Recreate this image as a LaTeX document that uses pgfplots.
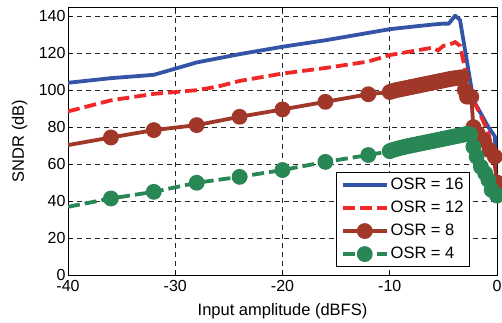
\documentclass[border=0pt]{standalone}
\usepackage{pgfplots}
\pgfplotsset{compat=1.18}
\usepackage{fontspec}
\setmainfont{Liberation Sans}
\definecolor{cblue}{RGB}{52,84,166}
\definecolor{cred}{RGB}{240,40,40}
\definecolor{cbrown}{RGB}{160,55,40}
\definecolor{cgreen}{RGB}{40,135,85}
\begin{document}
\begin{tikzpicture}
\path[use as bounding box] (-68pt,-47pt) rectangle (434pt,275pt);
\begin{axis}[
  scale only axis,
  width=429pt, height=268pt,
  xmin=-40, xmax=0, ymin=0, ymax=145,
  xtick={-40,-30,-20,-10,0},
  ytick={0,20,40,60,80,100,120,140},
  tick pos=both, tick align=inside,
  major tick length=4pt,
  tick style={black, line width=0.6pt},
  axis line style={black, line width=0.8pt},
  grid=major,
  major grid style={dash pattern=on 5pt off 4pt, black!85, line width=0.6pt},
  /pgf/number format/assume math mode=true,
  ticklabel style={font=\fontsize{16}{19}\selectfont},
  xticklabel style={yshift=-1.5pt},
  yticklabel style={xshift=1pt},
  label style={font=\fontsize{16.5}{19}\selectfont},
  xlabel={Input amplitude (dBFS)},
  ylabel={SNDR (dB)},
  xlabel style={at={(axis description cs:0.5,-0.1493)}, anchor=base},
  ylabel style={at={(axis description cs:-0.1026,0.5)}, anchor=base},
  legend style={at={(axis description cs:0.937,0.03)}, anchor=south east,
    draw=black, line width=0.8pt, fill=white,
    font=\fontsize{16.5}{19}\selectfont,
    nodes={inner sep=2pt, text height=12pt, text depth=3pt},
    row sep=4pt, inner xsep=4pt, inner ysep=3pt},
  legend cell align=left,
  legend image code/.code={\draw[mark repeat=2,mark phase=2,#1] plot coordinates {(0pt,0pt) (22pt,0pt) (44pt,0pt)};},
]
\addplot[cblue, line width=3.8pt, line join=round] coordinates {
(-40,104) (-36,106.5) (-32,108.3) (-28,115) (-24,119.5) (-20,123.5) (-16,127)
(-12,131) (-10,133) (-8,134.3) (-6,135.5) (-5,136) (-4.5,136) (-3.9,140.3)
(-3.45,138) (-2.2,94.6) (-0.8,80) (-0.2,75) (0,52)};
\addlegendentry{OSR = 16}
\addplot[cred, line width=3.8pt, dash pattern=on 12pt off 5pt] coordinates {
(-40,88.5) (-36,94.5) (-32,98) (-28,100) (-26,102) (-24,105) (-20,109) (-16,112)
(-12,115.5) (-10,119) (-8,121) (-6,123) (-5.5,121.5) (-5,124) (-4.5,124.5)
(-3.9,126) (-3.45,124) (-2.4,96.5) (-1.6,87.5) (-0.8,76.6) (-0.3,64) (0,50)};
\addlegendentry{OSR = 12}
\addplot[cbrown, line width=3.8pt, mark=*, mark size=6pt, mark phase=2, mark options={solid}] coordinates {
(-40,70.3) (-36,74.4) (-32,78.4) (-28,81.1) (-24,85.6) (-20,89.6) (-16,93.7) (-12,97.8)
(-10,99.0) (-9.75,99.5) (-9.5,99.9) (-9.25,100.2) (-9,100.5) (-8.75,100.8) (-8.5,101.1)
(-8.25,101.4) (-8,101.7) (-7.75,102.0) (-7.5,102.3) (-7.25,102.6) (-7,102.9) (-6.75,103.2)
(-6.5,103.5) (-6.25,103.8) (-6,104.1) (-5.75,104.4) (-5.5,104.7) (-5.25,105.0) (-5,105.3)
(-4.75,105.6) (-4.5,105.9) (-4.25,106.2) (-4,106.4) (-3.75,106.6) (-3.5,106.8) (-3.25,107.0)
(-3,100) (-2.8,96.5) (-2.4,96.4) (-2.2,80) (-1.8,76.6) (-1.3,73) (-0.7,67.6) (-0.2,64) (0,50)};
\addlegendentry{OSR = 8}
\addplot[cgreen, line width=3.8pt, dash pattern=on 12pt off 5pt, mark=*, mark size=6pt, mark phase=2, mark options={solid}] coordinates {
(-40,36.9) (-36,41.4) (-32,45) (-28,49.9) (-24,53.1) (-20,56.8) (-16,61.2) (-12,64.9)
(-10,67.0) (-9.75,67.6) (-9.5,68.0) (-9.25,68.4) (-9,68.8) (-8.75,69.1) (-8.5,69.5)
(-8.25,69.8) (-8,70.1) (-7.75,70.4) (-7.5,70.7) (-7.25,71.0) (-7,71.3) (-6.75,71.6)
(-6.5,71.9) (-6.25,72.2) (-6,72.5) (-5.75,72.8) (-5.5,73.1) (-5.25,73.4) (-5,73.7)
(-4.75,74.0) (-4.5,74.3) (-4.25,74.6) (-4,74.9) (-3.75,75.2) (-3.5,75.5) (-3.25,75.8)
(-3,76.1) (-2.75,76.4) (-2.5,76) (-2.2,69.4) (-1.9,64) (-1.5,58.5) (-1.1,55) (-0.8,51.4)
(-0.5,46) (0,43)};
\addlegendentry{OSR = 4}
\end{axis}
\end{tikzpicture}
\end{document}
